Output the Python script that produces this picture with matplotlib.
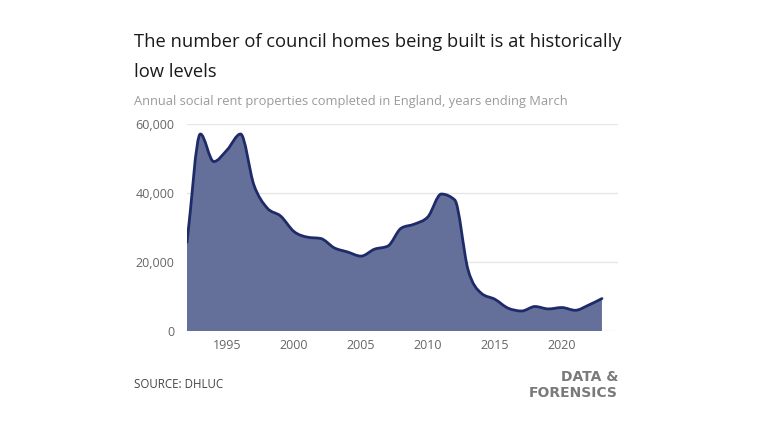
import matplotlib
matplotlib.use("Agg")
import matplotlib.pyplot as plt
from matplotlib.path import Path
from matplotlib.patches import PathPatch
import numpy as np

# annual social rent completions, England (years ending March)
years = list(range(1992, 2024))
homes = [25700, 57100, 49100, 52500, 57100, 42300, 35600, 33300, 28800, 27200,
         26800, 24100, 22900, 21700, 23700, 24600, 29800, 31000, 33100, 39700,
         38000, 17700, 10900, 9200, 6600, 5800, 7100, 6400, 6800, 6000,
         7500, 9400]
yticks = [0, 20000, 40000, 60000]
ytick_labels = ["0", "20,000", "40,000", "60,000"]
xticks = [1995, 2000, 2005, 2010, 2015, 2020]

FILL = "#646f9a"
LINE = "#1e2b68"


def monotone_path(xs, ys):
    # smooth monotone curve (d3 curveMonotoneX style) as bezier segments
    xs = np.asarray(xs, float)
    ys = np.asarray(ys, float)
    n = len(xs)
    h = np.diff(xs)
    d = np.diff(ys) / h
    m = np.zeros(n)
    m[0] = d[0]
    m[-1] = d[-1]
    for i in range(1, n - 1):
        if d[i - 1] * d[i] > 0:
            p = (d[i - 1] * h[i] + d[i] * h[i - 1]) / (h[i - 1] + h[i])
            m[i] = np.sign(d[i - 1]) * min(abs(d[i - 1]), abs(d[i]), 0.5 * abs(p)) * 2
    verts = [(xs[0], ys[0])]
    codes = [Path.MOVETO]
    for i in range(n - 1):
        dx = h[i] / 3
        verts += [(xs[i] + dx, ys[i] + m[i] * dx),
                  (xs[i + 1] - dx, ys[i + 1] - m[i + 1] * dx),
                  (xs[i + 1], ys[i + 1])]
        codes += [Path.CURVE4] * 3
    return verts, codes


fig = plt.figure(figsize=(7.68, 4.32), dpi=100)
ax = fig.add_axes([0.2435, 0.2338, 0.5612, 0.4792])

verts, codes = monotone_path(years, homes)
fill_verts = verts + [(years[-1], 0), (years[0], 0), verts[0]]
fill_codes = codes + [Path.LINETO, Path.LINETO, Path.CLOSEPOLY]
ax.add_patch(PathPatch(Path(fill_verts, fill_codes), facecolor=FILL,
                       edgecolor="none", zorder=2))
ax.add_patch(PathPatch(Path(verts, codes), facecolor="none", edgecolor=LINE,
                       lw=2, zorder=3, capstyle="round", joinstyle="round"))

ax.set_xlim(1992, 2024.2)
ax.set_ylim(0, 60000)
ax.set_yticks(yticks)
ax.set_yticklabels(ytick_labels)
ax.set_xticks(xticks)
ax.grid(axis="y", color="#e6e6e6", lw=1, zorder=0)
ax.tick_params(length=0, labelsize=9, labelcolor="#666666", pad=9)
ax.tick_params(axis="x", pad=6)
for lab in ax.get_xticklabels() + ax.get_yticklabels():
    lab.set_family("Open Sans")
for s in ax.spines.values():
    s.set_visible(False)
ax.set_axisbelow(True)

fig.text(134 / 768, 1 - 42 / 432, "The number of council homes being built is at historically",
         fontsize=13.2, color="#1a1a1a", family="Open Sans", va="center", ha="left")
fig.text(134 / 768, 1 - 72 / 432, "low levels",
         fontsize=13.2, color="#1a1a1a", family="Open Sans", va="center", ha="left")
fig.text(134 / 768, 1 - 102 / 432,
         "Annual social rent properties completed in England, years ending March",
         fontsize=9.3, color="#9a9a9a", family="Open Sans", va="center", ha="left")
fig.text(134 / 768, 1 - 384 / 432, "SOURCE: DHLUC", fontsize=8.3, color="#444444",
         family="Open Sans", va="center", ha="left")
fig.text(618 / 768, 1 - 377 / 432, "DATA &", fontsize=10, color="#7a7a7a",
         family="DejaVu Sans", weight="bold", va="center", ha="right")
fig.text(618 / 768, 1 - 393 / 432, "FORENSICS", fontsize=10, color="#7a7a7a",
         family="DejaVu Sans", weight="bold", va="center", ha="right")

fig.savefig("out.png", dpi=100)
